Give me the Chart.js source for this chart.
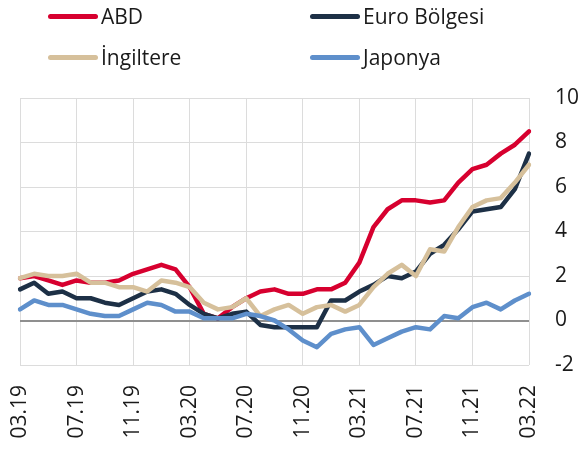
<!DOCTYPE html>
<html><head><meta charset="utf-8">
<script src="https://cdn.jsdelivr.net/npm/chart.js@4.4.1/dist/chart.umd.min.js"></script>
<style>
html,body{margin:0;padding:0;background:#fff;}
#wrap{position:relative;width:582px;height:451px;overflow:hidden;}
#legend{position:absolute;left:0;top:0;width:582px;height:80px;font-family:'Open Sans',sans-serif;font-size:21px;color:#1a1a1a;}
.item{position:absolute;display:flex;align-items:center;white-space:nowrap;height:30px;line-height:30px;}
.swatch{width:50px;height:5px;border-radius:3px;margin-right:3px;}
canvas{position:absolute;left:0;top:0;}
</style></head><body>
<div id="wrap"><canvas id="c" width="582" height="451"></canvas><div id="legend"></div></div>
<script>
const categories = [
  '03.19','04.19','05.19','06.19','07.19','08.19','09.19','10.19','11.19','12.19',
  '01.20','02.20','03.20','04.20','05.20','06.20','07.20','08.20','09.20','10.20','11.20','12.20',
  '01.21','02.21','03.21','04.21','05.21','06.21','07.21','08.21','09.21','10.21','11.21','12.21',
  '01.22','02.22','03.22'
];
const abd = [1.9,2.0,1.8,1.6,1.8,1.7,1.7,1.8,2.1,2.3,
  2.5,2.3,1.5,0.3,0.1,0.6,1.0,1.3,1.4,1.2,1.2,1.4,
  1.4,1.7,2.6,4.2,5.0,5.4,5.4,5.3,5.4,6.2,6.8,7.0,
  7.5,7.9,8.5];
const euroBolgesi = [1.4,1.7,1.2,1.3,1.0,1.0,0.8,0.7,1.0,1.3,
  1.4,1.2,0.7,0.3,0.1,0.3,0.4,-0.2,-0.3,-0.3,-0.3,-0.3,
  0.9,0.9,1.3,1.6,2.0,1.9,2.2,3.0,3.4,4.1,4.9,5.0,
  5.1,5.9,7.5];
const ingiltere = [1.9,2.1,2.0,2.0,2.1,1.7,1.7,1.5,1.5,1.3,
  1.8,1.7,1.5,0.8,0.5,0.6,1.0,0.2,0.5,0.7,0.3,0.6,
  0.7,0.4,0.7,1.5,2.1,2.5,2.0,3.2,3.1,4.2,5.1,5.4,
  5.5,6.2,7.0];
const japonya = [0.5,0.9,0.7,0.7,0.5,0.3,0.2,0.2,0.5,0.8,
  0.7,0.4,0.4,0.1,0.1,0.1,0.3,0.2,0.0,-0.4,-0.9,-1.2,
  -0.6,-0.4,-0.3,-1.1,-0.8,-0.5,-0.3,-0.4,0.2,0.1,0.6,0.8,
  0.5,0.9,1.2];
const seriesNames = ['ABD','Euro Bölgesi','İngiltere','Japonya'];
const yTicks = [-2,0,2,4,6,8,10];
const tickEvery = 4;

const colors = ['#d7002f','#1d3046','#d6c09b','#5e8fcb'];
const FONT = "'Open Sans', sans-serif";

function ds(label, data, color, order){
  return {label, data, borderColor: color, backgroundColor: color, borderWidth: 4.5,
    pointRadius: 0, pointHoverRadius: 0, tension: 0, fill: false,
    borderJoinStyle: 'round', borderCapStyle: 'round', order};
}

const chart = new Chart(document.getElementById('c'), {
  type: 'line',
  data: {
    labels: categories,
    datasets: [
      ds(seriesNames[0], abd, colors[0], 3),
      ds(seriesNames[1], euroBolgesi, colors[1], 2),
      ds(seriesNames[2], ingiltere, colors[2], 1),
      ds(seriesNames[3], japonya, colors[3], 0)
    ]
  },
  options: {
    responsive: false,
    animation: false,
    layout: {padding: {top: 98, left: 5, right: 0, bottom: 10}},
    plugins: {legend: {display: false}, tooltip: {enabled: false}},
    scales: {
      x: {
        afterFit: s => { s.height = 76; },
        grid: {
          color: c => (c.index % tickEvery === 0) ? '#dcdcdc' : 'rgba(0,0,0,0)',
          lineWidth: 1, drawTicks: false
        },
        border: {display: false},
        ticks: {
          autoSkip: false, maxRotation: 90, minRotation: 90, padding: 20,
          color: '#1a1a1a', font: {family: FONT, size: 21},
          callback: (v, i) => (i % tickEvery === 0) ? categories[i] : ''
        }
      },
      y: {
        position: 'right',
        min: yTicks[0], max: yTicks[yTicks.length - 1],
        afterBuildTicks: s => { s.ticks = yTicks.map(v => ({value: v})); },
        afterFit: s => { s.width = 53; },
        grid: {
          color: c => (c.tick && c.tick.value === 0) ? '#8f8f8f' : '#dcdcdc',
          lineWidth: c => (c.tick && c.tick.value === 0) ? 2 : 1,
          drawTicks: false
        },
        border: {display: false},
        ticks: {padding: 26, color: '#1a1a1a', font: {family: FONT, size: 21}}
      }
    }
  }
});

// HTML legend built from chart datasets
const legendEl = document.getElementById('legend');
const pos = [[48, 1], [310, 1], [48, 42], [310, 42]];
chart.data.datasets.forEach((d, i) => {
  const it = document.createElement('div');
  it.className = 'item';
  it.style.left = pos[i][0] + 'px';
  it.style.top = pos[i][1] + 'px';
  const sw = document.createElement('span');
  sw.className = 'swatch';
  sw.style.background = d.borderColor;
  const tx = document.createElement('span');
  tx.textContent = d.label;
  it.appendChild(sw); it.appendChild(tx);
  legendEl.appendChild(it);
});
</script>
</body></html>
